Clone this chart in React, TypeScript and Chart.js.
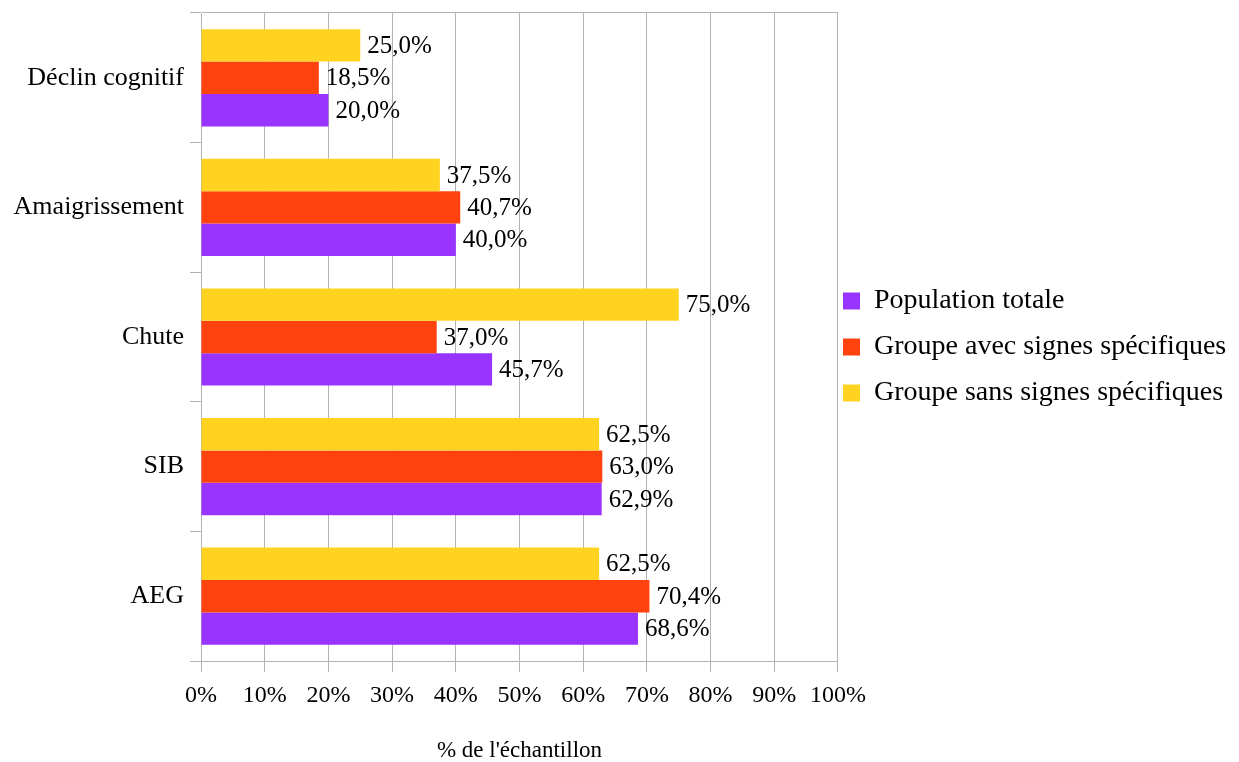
import React, { useEffect, useRef } from 'react';
import { Chart, registerables } from 'chart.js';

Chart.register(...registerables);

const categories = ['Déclin cognitif', 'Amaigrissement', 'Chute', 'SIB', 'AEG'];
const populationTotale = [20.0, 40.0, 45.7, 62.9, 68.6];
const groupeAvec = [18.5, 40.7, 37.0, 63.0, 70.4];
const groupeSans = [25.0, 37.5, 75.0, 62.5, 62.5];
const seriesNames = ['Population totale', 'Groupe avec signes spécifiques', 'Groupe sans signes spécifiques'];
const seriesColors = ['#9933ff', '#ff420e', '#ffd320'];
const xAxisTitle = "% de l'échantillon";

const FONT = "'Liberation Serif', 'Times New Roman', serif";
const GRID = '#b3b3b3';

const valueLabels = {
  id: 'valueLabels',
  afterDatasetsDraw(chart: any) {
    const ctx = chart.ctx;
    ctx.save();
    ctx.font = `25px ${FONT}`;
    ctx.fillStyle = '#000';
    ctx.textAlign = 'left';
    ctx.textBaseline = 'middle';
    chart.data.datasets.forEach((ds: any, di: number) => {
      const meta = chart.getDatasetMeta(di);
      meta.data.forEach((el: any, i: number) => {
        const v = ds.data[i] as number;
        ctx.fillText(v.toFixed(1).replace('.', ',') + '%', el.x + 7, el.y + 1);
      });
    });
    ctx.restore();
  },
};

const legendNudge = {
  id: 'legendNudge',
  afterLayout(chart: any) {
    const lg = chart.legend;
    if (lg) {
      lg.left -= 13;
      lg.right = chart.width;
      lg.width = lg.right - lg.left;
      lg.top += 10;
      lg.bottom += 10;
    }
  },
};

export default function App() {
  const ref = useRef<HTMLCanvasElement | null>(null);

  useEffect(() => {
    if (!ref.current) return;
    const chart = new Chart(ref.current, {
      type: 'bar',
      data: {
        labels: categories,
        datasets: [
          { label: seriesNames[2], data: groupeSans, backgroundColor: seriesColors[2], borderWidth: 0 },
          { label: seriesNames[1], data: groupeAvec, backgroundColor: seriesColors[1], borderWidth: 0 },
          { label: seriesNames[0], data: populationTotale, backgroundColor: seriesColors[0], borderWidth: 0 },
        ],
      },
      options: {
        indexAxis: 'y',
        responsive: false,
        animation: false,
        datasets: { bar: { categoryPercentage: 0.75, barPercentage: 1 } },
        layout: { padding: { top: 13, right: 121.67, bottom: 0, left: 0 } },
        plugins: {
          tooltip: { enabled: false },
          legend: {
            position: 'right',
            fullSize: false,
            reverse: true,
            labels: {
              color: '#000',
              font: { family: FONT, size: 28 },
              boxWidth: 17,
              boxHeight: 17,
              padding: 18,
            },
          },
        },
        scales: {
          x: {
            min: 0,
            max: 100,
            ticks: {
              stepSize: 10,
              color: '#000',
              font: { family: FONT, size: 24 },
              padding: 9,
              callback: (v: any) => `${v}%`,
            },
            grid: { color: GRID, tickColor: GRID, tickLength: 11, lineWidth: 1 },
            border: { display: true, color: GRID },
            title: {
              display: true,
              text: xAxisTitle,
              color: '#000',
              font: { family: FONT, size: 23, lineHeight: 1 },
              padding: { top: 0, bottom: 0 },
            },
            afterFit: (scale: any) => {
              scale.height = 101;
            },
          },
          y: {
            ticks: {
              color: '#000',
              font: { family: FONT, size: 26 },
              padding: 6,
            },
            grid: {
              offset: true,
              drawOnChartArea: true,
              color: (c: any) => (c.index === 0 ? GRID : 'rgba(0,0,0,0)'),
              tickColor: GRID,
              tickLength: 11,
            },
            border: { display: true, color: GRID },
            afterFit: (scale: any) => {
              scale.width = 201;
              scale.paddingTop = 0;
              scale.paddingBottom = 0;
            },
          },
        },
      },
      plugins: [valueLabels, legendNudge],
    });
    return () => chart.destroy();
  }, []);

  return (
    <div style={{ position: 'absolute', left: 0, top: 0, width: 1239, height: 762, background: '#fff' }}>
      <canvas ref={ref} width={1239} height={762} style={{ display: 'block' }} />
    </div>
  );
}
